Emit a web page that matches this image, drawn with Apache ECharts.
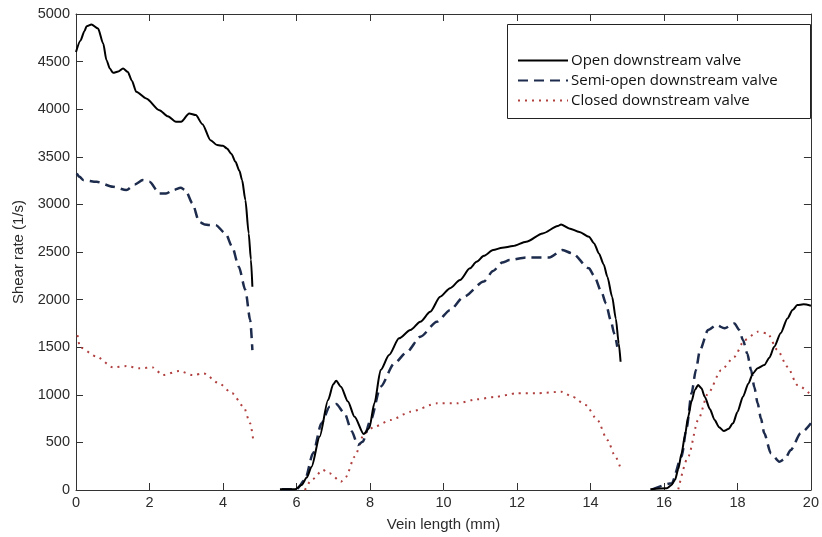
<!DOCTYPE html>
<html>
<head>
<meta charset="utf-8">
<script src="https://cdn.jsdelivr.net/npm/echarts@6/dist/echarts.min.js"></script>
<style>html,body{margin:0;padding:0;background:#fff}#c{width:822px;height:537px}</style>
</head>
<body>
<div id="c"></div>
<script>
const seriesNames = ['Open downstream valve', 'Semi-open downstream valve', 'Closed downstream valve'];
const xTicks = [0, 2, 4, 6, 8, 10, 12, 14, 16, 18, 20];

const openX = [0, 0.12, 0.23, 0.29, 0.42, 0.6, 0.74, 0.83, 0.92, 1.01, 1.15, 1.28, 1.41, 1.52, 1.64, 1.91, 2.27, 2.5, 2.72, 2.86, 3.08, 3.26, 3.44, 3.66, 3.84, 4.0, 4.11, 4.23, 4.34, 4.45, 4.52, 4.61, 4.70, 4.76, 4.80,
  5.2,
  5.55, 5.96, 6.14, 6.28, 6.41, 6.63, 6.86, 7.0, 7.08, 7.21, 7.4, 7.58, 7.83, 7.98, 8.12, 8.29, 8.52, 8.79, 9.10, 9.37, 9.64, 9.91, 10.18, 10.45, 10.72, 10.90, 11.1, 11.35, 11.6, 11.89, 12.25, 12.70, 13.11, 13.2, 13.42, 13.7, 13.96, 14.1, 14.23, 14.36, 14.46, 14.59, 14.69, 14.77, 14.82,
  15.2,
  15.63, 16.08, 16.2, 16.30, 16.39, 16.48, 16.57, 16.66, 16.75, 16.84, 16.93, 17.02, 17.11, 17.25, 17.38, 17.5, 17.63, 17.75, 17.88, 18.0, 18.15, 18.3, 18.42, 18.55, 18.73, 18.87, 19.0, 19.18, 19.36, 19.5, 19.63, 19.8, 20.0];
const openY = [4600, 4720, 4820, 4872, 4890, 4847, 4690, 4515, 4428, 4382, 4395, 4428, 4392, 4300, 4183, 4113, 3990, 3925, 3867, 3867, 3955, 3938, 3843, 3675, 3623, 3615, 3588, 3530, 3447, 3350, 3255, 3045, 2695, 2420, 2135,
  null,
  7, 7, 52, 130, 245, 560, 945, 1110, 1148, 1085, 930, 770, 588, 648, 910, 1260, 1418, 1593, 1680, 1767, 1872, 2030, 2120, 2205, 2328, 2397, 2460, 2520, 2545, 2562, 2607, 2695, 2772, 2790, 2748, 2710, 2660, 2590, 2485, 2370, 2240, 2030, 1800, 1540, 1347,
  null,
  7, 18, 50, 105, 220, 385, 570, 770, 930, 1050, 1103, 1070, 980, 850, 735, 660, 620, 640, 700, 820, 980, 1120, 1225, 1280, 1312, 1390, 1505, 1650, 1802, 1890, 1942, 1950, 1935];

const semiX = [0.02, 0.1, 0.2, 0.56, 1.01, 1.37, 1.6, 1.82, 2.0, 2.27, 2.45, 2.65, 2.85, 2.98, 3.17, 3.35, 3.5, 3.62, 3.8, 4.07, 4.25, 4.43, 4.61, 4.74, 4.80,
  5.2,
  5.6, 6.0, 6.23, 6.45, 6.68, 6.90, 7.08, 7.31, 7.5, 7.67, 7.80, 8.02, 8.29, 8.66, 9.01, 9.37, 9.82, 10.18, 10.55, 11.1, 11.35, 11.6, 11.8, 12.25, 12.88, 13.24, 13.51, 13.96, 14.1, 14.3, 14.42, 14.55, 14.65, 14.73,
  15.2,
  15.68, 16.21, 16.48, 16.62, 16.75, 16.87, 16.98, 17.2, 17.43, 17.65, 17.92, 18.05, 18.15, 18.27, 18.37, 18.46, 18.55, 18.64, 18.73, 18.91, 19.14, 19.3, 19.45, 19.72, 20.0];
const semiY = [3325, 3290, 3255, 3237, 3185, 3150, 3210, 3255, 3237, 3115, 3115, 3150, 3175, 3150, 3010, 2817, 2790, 2783, 2783, 2695, 2555, 2345, 2100, 1785, 1470,
  null,
  7, 7, 105, 385, 700, 875, 903, 805, 620, 472, 507, 735, 1085, 1330, 1452, 1610, 1767, 1890, 2030, 2190, 2300, 2390, 2415, 2443, 2443, 2520, 2485, 2328, 2250, 2080, 1960, 1785, 1640, 1505,
  null,
  7, 70, 350, 660, 1015, 1260, 1470, 1680, 1732, 1698, 1750, 1680, 1575, 1430, 1260, 1080, 910, 750, 595, 385, 297, 330, 420, 595, 700];

const closedX = [0.04, 0.11, 0.56, 1.01, 1.37, 1.73, 2.09, 2.36, 2.81, 3.17, 3.48, 3.89, 4.25, 4.56, 4.74, 4.83,
  5.5,
  6.23, 6.41, 6.72, 6.90, 7.21, 7.35, 7.58, 7.85, 8.12, 8.57, 9.10, 9.82, 10.36, 10.90, 11.44, 11.98, 12.52, 13.2, 13.51, 13.87, 14.19, 14.46, 14.68, 14.82,
  15.5,
  16.39, 16.66, 16.93, 17.2, 17.56, 17.92, 18.19, 18.55, 18.82, 19.09, 19.36, 19.63, 20.0];
const closedY = [1627, 1498, 1400, 1288, 1302, 1278, 1288, 1207, 1250, 1207, 1225, 1120, 1015, 875, 700, 507,
  null,
  0, 105, 210, 175, 87, 140, 350, 595, 665, 735, 822, 910, 910, 952, 980, 1015, 1015, 1032, 980, 892, 735, 525, 350, 228,
  null,
  7, 350, 735, 1015, 1260, 1400, 1575, 1662, 1645, 1470, 1295, 1103, 998];

function pairs(xs, ys) { return xs.map((x, i) => [x, ys[i]]); }

const chart = echarts.init(document.getElementById('c'), null, {renderer: 'canvas'});
const axisFont = {fontFamily: 'Liberation Sans, Arial, sans-serif', fontSize: 14.5, color: '#2b2b2b'};
const nameFont = {fontFamily: 'Liberation Sans, Arial, sans-serif', fontSize: 15, color: '#2b2b2b'};
const axisLine = {show: true, onZero: false, lineStyle: {color: '#333', width: 1}};
const tick = {show: true, inside: true, length: 7, lineStyle: {color: '#333'}};

chart.setOption({
  animation: false,
  backgroundColor: '#fff',
  grid: {left: 76, right: 5, top: 14, bottom: 47, containLabel: false},
  xAxis: [
    {type: 'value', min: 0, max: 20, interval: 2, position: 'bottom',
     name: 'Vein length (mm)', nameLocation: 'middle', nameGap: 27,
     nameTextStyle: nameFont,
     axisLine: axisLine, axisTick: tick, splitLine: {show: false},
     axisLabel: Object.assign({margin: 5, formatter: v => xTicks.includes(v) ? String(v) : ''}, axisFont)},
    {type: 'value', min: 0, max: 20, interval: 2, position: 'top',
     axisLine: axisLine, axisTick: tick, axisLabel: {show: false}, splitLine: {show: false}}
  ],
  yAxis: [
    {type: 'value', min: 0, max: 5000, interval: 500, position: 'left',
     name: 'Shear rate (1/s)', nameLocation: 'middle', nameGap: 49, nameRotate: 90,
     nameTextStyle: nameFont,
     axisLine: axisLine, axisTick: tick, splitLine: {show: false},
     axisLabel: Object.assign({margin: 6, formatter: v => String(v)}, axisFont)},
    {type: 'value', min: 0, max: 5000, interval: 500, position: 'right',
     axisLine: axisLine, axisTick: tick, axisLabel: {show: false}, splitLine: {show: false}}
  ],
  legend: {
    orient: 'vertical', left: 517, top: 53, itemGap: 5, itemWidth: 50, itemHeight: 14,
    padding: 0, z: 100,
    data: seriesNames,
    itemStyle: {color: 'rgba(0,0,0,0)', borderWidth: 0, opacity: 0},
    textStyle: {fontFamily: 'Open Sans, sans-serif', fontSize: 15, color: '#111', padding: [0, 0, 0, -2]}
  },
  graphic: [{type: 'rect', left: 507, top: 24, shape: {width: 303, height: 94},
    style: {fill: '#fff', stroke: '#222', lineWidth: 1}, z: 5}],
  series: [
    {name: seriesNames[0], type: 'line', showSymbol: false, symbol: 'none', smooth: 0.25, smoothMonotone: 'x',
     connectNulls: false, data: pairs(openX, openY),
     lineStyle: {color: '#000', width: 2, type: 'solid'}, itemStyle: {color: '#000'}, z: 3},
    {name: seriesNames[1], type: 'line', showSymbol: false, symbol: 'none', smooth: 0.25, smoothMonotone: 'x',
     connectNulls: false, data: pairs(semiX, semiY),
     lineStyle: {color: '#1d2b4c', width: 2.5, type: [10, 6]}, itemStyle: {color: '#1d2b4c'}, z: 2},
    {name: seriesNames[2], type: 'line', showSymbol: false, symbol: 'none', smooth: 0.25, smoothMonotone: 'x',
     connectNulls: false, data: pairs(closedX, closedY),
     lineStyle: {color: '#b0403f', width: 2, type: [2, 5]}, itemStyle: {color: '#b0403f'}, z: 1}
  ]
});
</script>
</body>
</html>
